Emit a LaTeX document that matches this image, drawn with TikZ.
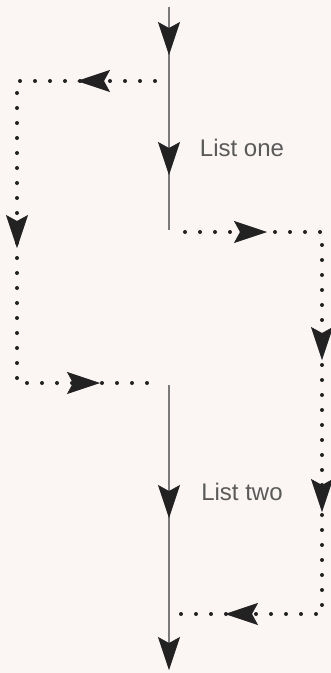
\documentclass[tikz,border=0pt]{standalone}
\usepackage{fontspec}
\setmainfont{Liberation Sans}
\usetikzlibrary{arrows.meta,decorations.markings}
\definecolor{bg}{HTML}{FBF6F4}
\definecolor{ink}{HTML}{222222}
\definecolor{thinline}{HTML}{7A7A7A}
\definecolor{txt}{HTML}{5A5A5A}
\tikzset{
  mytip/.tip={Stealth[length=33pt,width=22pt,inset=6pt,line width=0.6pt,ink]},
  tipat/.style={postaction={decorate,decoration={markings,mark=at position #1 with {\arrow{mytip}}}}},
  mainline/.style={draw=thinline,line width=1.3pt},
  dotline/.style={draw=ink,line width=4pt,line cap=round,dash pattern=on 0pt off 15pt},
  label/.style={font=\fontsize{24}{28}\selectfont,text=txt,inner sep=0pt}
}
\begin{document}
\begin{tikzpicture}[x=1pt,y=-1pt]
  \fill[bg] (0,0) rectangle (331,673);
  \useasboundingbox (0,0) rectangle (331,673);
  % main line coordinates
  \coordinate (m1) at (169,7);
  \coordinate (m2) at (169,230);
  \coordinate (m3) at (169,385);
  \coordinate (m4) at (169,670);
  % left loop
  \coordinate (l1) at (155,81);
  \coordinate (l2) at (17,81);
  \coordinate (l3) at (17,383);
  \coordinate (l4) at (153,383);
  % right loop
  \coordinate (r1) at (185,232);
  \coordinate (r2) at (322,232);
  \coordinate (r3) at (322,614);
  \coordinate (r4) at (180,614);
  % labels
  \node[label] (one) at (242,148) {List one};
  \node[label] (two) at (242,492) {List two};
  % main lines
  \path[mainline,tipat=48pt,tipat=168pt] (m1) -- (m2);
  \path[mainline,tipat=133pt,-{mytip}] (m3) -- (m4);
  % dotted loops
  \path[dotline,tipat=78pt,tipat=305pt,tipat=523pt] (l1) -- (l2) -- (l3) -- (l4);
  \path[dotline,tipat=82pt,tipat=265pt,tipat=417pt,tipat=616pt] (r1) -- (r2) -- (r3) -- (r4);
\end{tikzpicture}
\end{document}
